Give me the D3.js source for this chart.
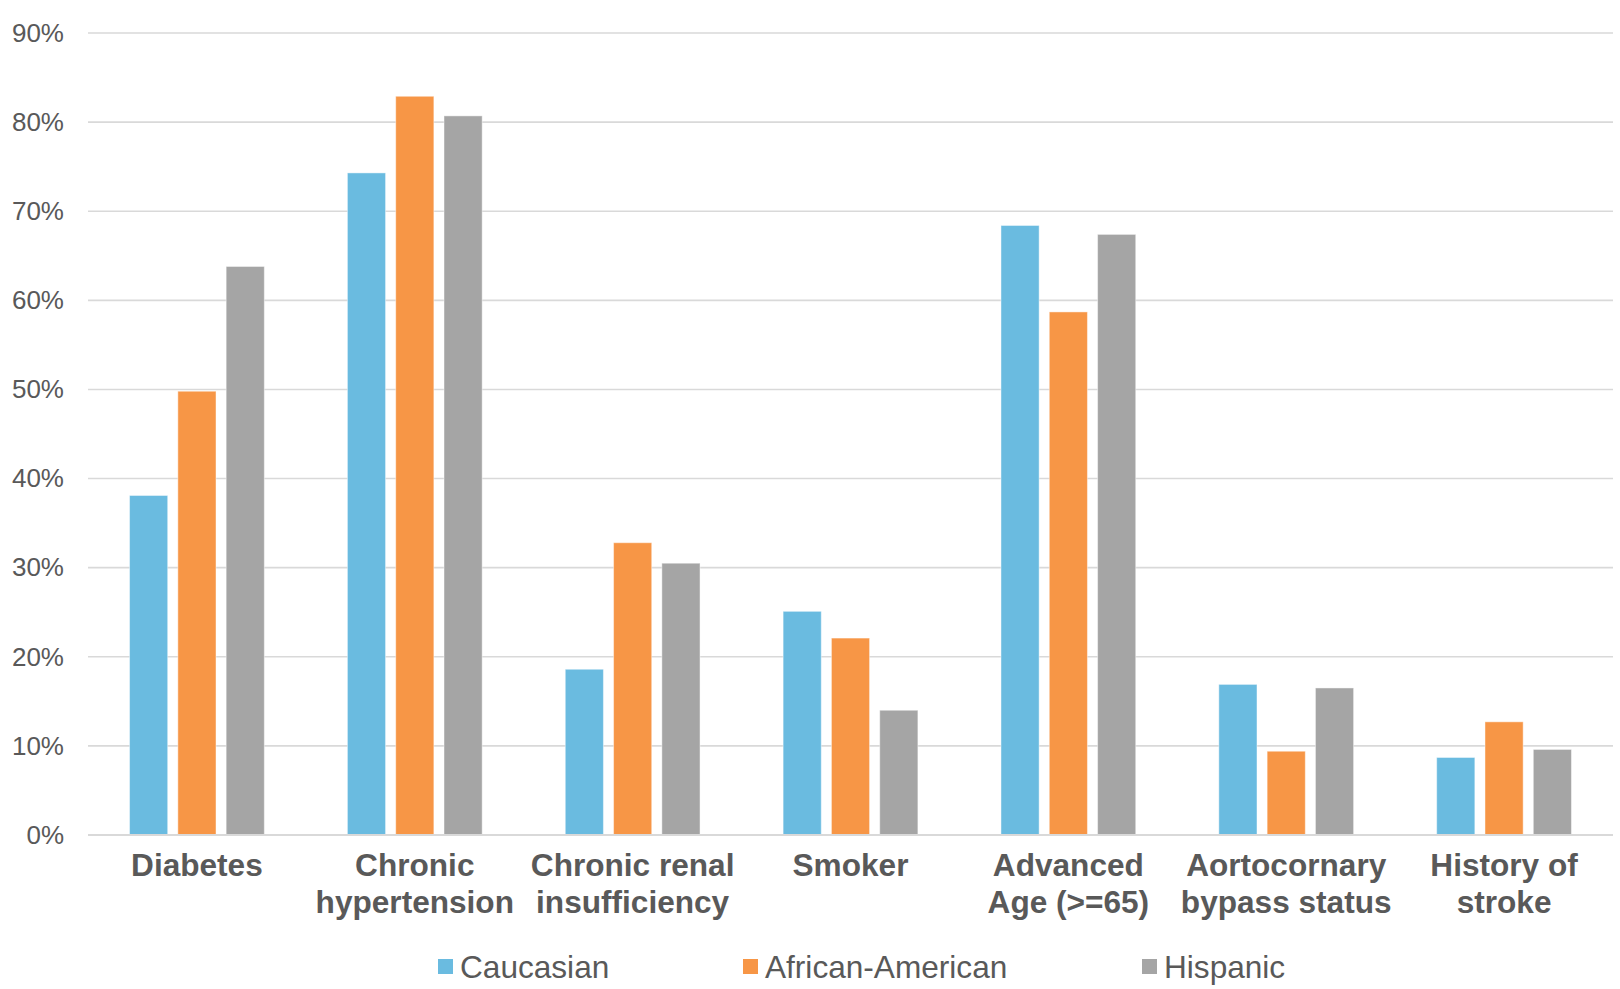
<!DOCTYPE html>
<html>
<head>
<meta charset="utf-8">
<script src="https://cdn.jsdelivr.net/npm/d3@7"></script>
<style>
  html, body { margin: 0; padding: 0; background: #fff; }
  svg { display: block; font-family: "Liberation Sans", Arial, sans-serif; }
</style>
</head>
<body>
<svg id="chart" width="1620" height="989"></svg>
<script>
const categories = [
  ["Diabetes"],
  ["Chronic", "hypertension"],
  ["Chronic renal", "insufficiency"],
  ["Smoker"],
  ["Advanced", "Age (>=65)"],
  ["Aortocornary", "bypass status"],
  ["History of", "stroke"]
];
const seriesNames = ["Caucasian", "African-American", "Hispanic"];
const caucasian       = [0.381, 0.743, 0.186, 0.251, 0.684, 0.169, 0.087];
const africanAmerican = [0.498, 0.829, 0.328, 0.221, 0.587, 0.094, 0.127];
const hispanic        = [0.638, 0.807, 0.305, 0.140, 0.674, 0.165, 0.096];
const yTicks = [0, 0.1, 0.2, 0.3, 0.4, 0.5, 0.6, 0.7, 0.8, 0.9];

const colors = ["#6abbe0", "#f79646", "#a5a5a5"];
const seriesValues = [caucasian, africanAmerican, hispanic];

const svg = d3.select("#chart");
const plotLeft = 88, plotRight = 1613, plotTop = 33, plotBottom = 835;

const catKeys = categories.map(c => c.join(" "));
const x0 = d3.scaleBand().domain(catKeys).range([plotLeft, plotRight]).paddingInner(0).paddingOuter(0);
const x1 = d3.scaleBand().domain(seriesNames).range([0, x0.bandwidth()])
  .paddingInner(0.21).paddingOuter(0.86);
const y = d3.scaleLinear().domain([0, 0.9]).range([plotBottom, plotTop]);

// gridlines
svg.append("g").selectAll("line").data(yTicks).join("line")
  .attr("x1", plotLeft).attr("x2", plotRight)
  .attr("y1", d => y(d)).attr("y2", d => y(d))
  .attr("stroke", "#d9d9d9").attr("stroke-width", 1.6);

// y axis labels
const yAxis = d3.axisLeft(y).tickValues(yTicks).tickFormat(d3.format(".0%")).tickSize(0).tickPadding(0);
const gy = svg.append("g").attr("transform", `translate(64,0)`).call(yAxis);
gy.select(".domain").remove();
gy.selectAll("text").attr("fill", "#595959").style("font-size", "26px")
  .style("font-family", '"Liberation Sans", Arial, sans-serif');

// bars
const groups = svg.append("g").selectAll("g").data(catKeys).join("g")
  .attr("transform", d => `translate(${x0(d)},0)`);
groups.selectAll("rect")
  .data((d, i) => seriesNames.map((s, j) => ({ s, j, v: seriesValues[j][i] })))
  .join("rect")
  .attr("x", d => x1(d.s))
  .attr("width", x1.bandwidth())
  .attr("y", d => y(d.v))
  .attr("height", d => y(0) - y(d.v))
  .attr("fill", d => colors[d.j])
  .attr("stroke", "rgba(255,255,255,0.45)")
  .attr("stroke-width", 1);

// baseline
svg.append("line").attr("x1", plotLeft).attr("x2", plotRight)
  .attr("y1", y(0)).attr("y2", y(0))
  .attr("stroke", "#d9d9d9").attr("stroke-width", 2);

// category labels
const catG = svg.append("g");
categories.forEach((lines, i) => {
  const cx = x0(catKeys[i]) + x0.bandwidth() / 2;
  const t = catG.append("text")
    .attr("x", cx).attr("y", 876)
    .attr("text-anchor", "middle")
    .attr("fill", "#595959")
    .style("font-size", "31.6px").style("font-weight", "bold");
  lines.forEach((ln, k) => {
    t.append("tspan").attr("x", cx).attr("dy", k === 0 ? 0 : 37).text(ln);
  });
});

// legend
const legendX = [438, 743, 1142];
const lg = svg.append("g");
seriesNames.forEach((s, j) => {
  lg.append("rect").attr("x", legendX[j]).attr("y", 959).attr("width", 15).attr("height", 15)
    .attr("fill", colors[j]);
  lg.append("text").attr("x", legendX[j] + 22).attr("y", 978)
    .attr("fill", "#595959").style("font-size", "31.6px").text(s);
});
</script>
</body>
</html>
